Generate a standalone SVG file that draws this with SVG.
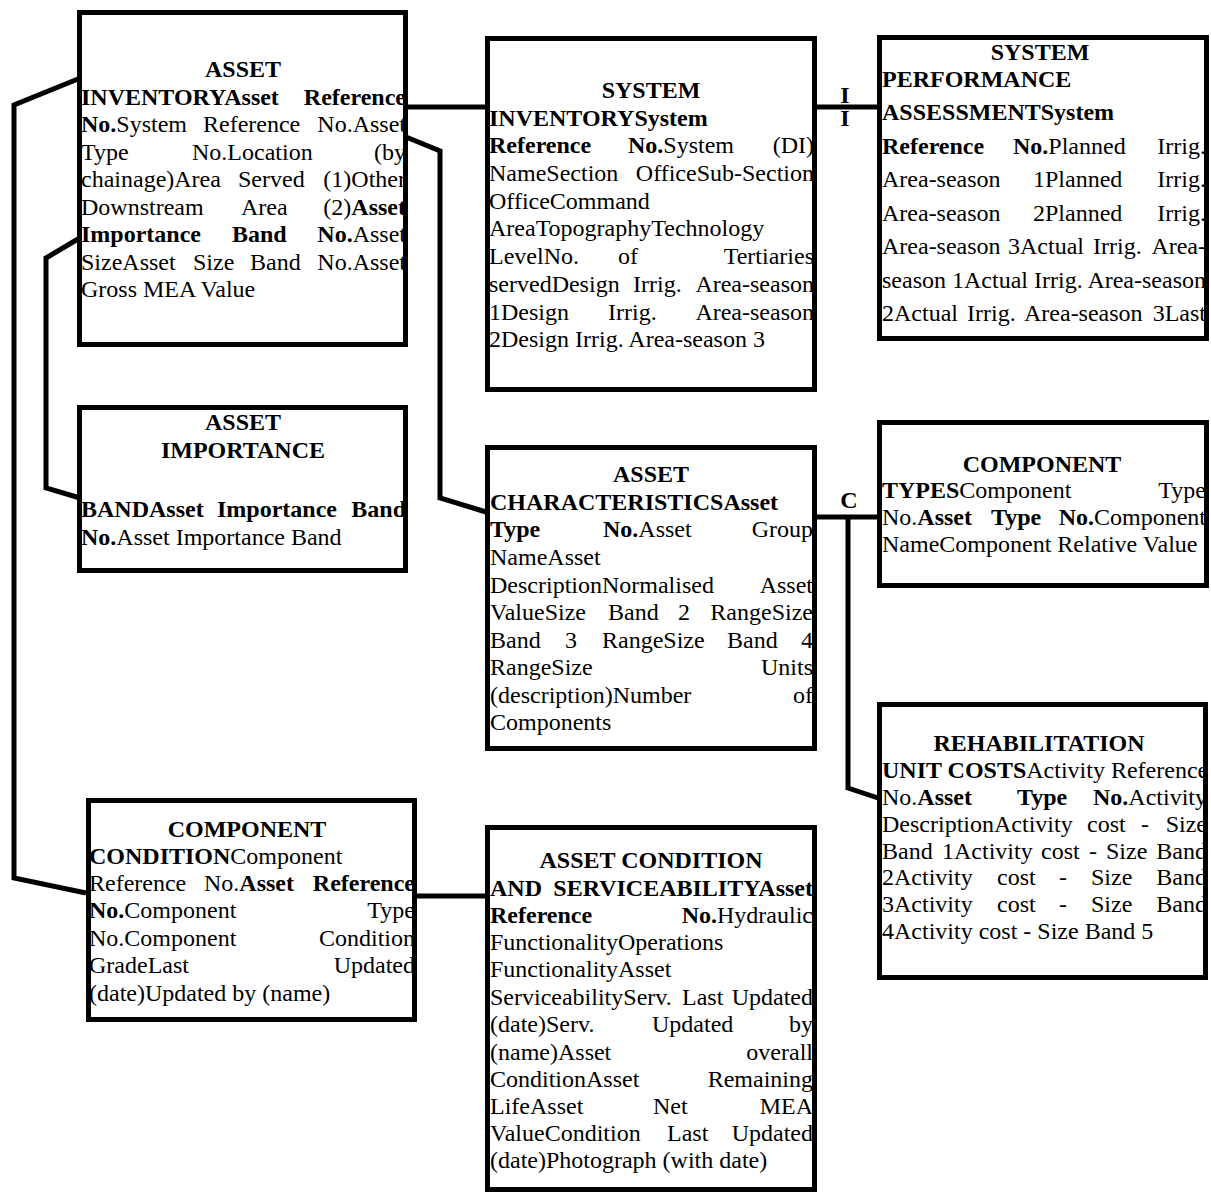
<svg xmlns="http://www.w3.org/2000/svg" width="1211" height="1194" viewBox="0 0 1211 1194">
  <style>
    .box { fill: #fff; stroke: #000; stroke-width: 5; }
    .link { fill: none; stroke: #000; stroke-width: 5; stroke-linejoin: miter; }
    text { font-family: "Liberation Serif", "Times New Roman", serif; font-size: 24px; fill: #000; }
    .b { font-weight: bold; }
    .e { text-anchor: end; }
    .m { text-anchor: middle; }
  </style>
  <rect width="1211" height="1194" fill="#fff"/>

  <!-- relationship lines -->
  <g id="connectors">
    <path class="link" d="M408,107 H485"/>
    <path class="link" d="M817,107 H877"/>
    <path class="link" d="M78,79 L14,105 L14,878 L86,893"/>
    <path class="link" d="M78,239 L46,258 L46,488 L80,498"/>
    <path class="link" d="M406,137 L440,151 L440,498 L486,512"/>
    <path class="link" d="M817,517 H878"/>
    <path class="link" d="M848,517 L848,788 L878,798"/>
    <path class="link" d="M417,896 H485"/>
    <!-- one-to-one mark: stacked bars either side of the line -->
    <text class="b m" x="845" y="103">I<tspan x="845" y="126">I</tspan></text>
    <text class="b m" x="849" y="508">C</text>
  </g>

  <g id="asset-inventory">
    <rect class="box" x="79.5" y="12.5" width="326" height="332"/>
    <text class="b m" x="243" y="77">ASSET</text>
    <text class="b" x="81" y="104.5">INVENTORYAsset</text>
    <text class="b e" x="406" y="104.5">Reference</text>
    <text x="81" y="132"><tspan class="b">No.</tspan>System</text>
    <text x="203" y="132">Reference</text>
    <text class="e" x="406" y="132">No.Asset</text>
    <text x="81" y="159.5">Type</text>
    <text x="192" y="159.5">No.Location</text>
    <text class="e" x="406" y="159.5">(by</text>
    <text x="81" y="187">chainage)Area</text>
    <text x="238" y="187">Served</text>
    <text class="e" x="406" y="187">(1)Other</text>
    <text x="81" y="214.5">Downstream</text>
    <text x="241" y="214.5">Area</text>
    <text class="e" x="406" y="214.5">(2)<tspan class="b">Asset</tspan></text>
    <text class="b" x="81" y="242">Importance</text>
    <text class="b" x="232" y="242">Band</text>
    <text class="e" x="406" y="242"><tspan class="b">No.</tspan>Asset</text>
    <text x="81" y="269.5">SizeAsset</text>
    <text x="193" y="269.5">Size</text>
    <text x="250" y="269.5">Band</text>
    <text class="e" x="406" y="269.5">No.Asset</text>
    <text x="81" y="297">Gross MEA Value</text>
  </g>

  <g id="system-inventory">
    <rect class="box" x="487.5" y="38.5" width="327" height="351"/>
    <text class="b m" x="651" y="98">SYSTEM</text>
    <text class="b" x="489" y="125.7">INVENTORYSystem</text>
    <text class="b" x="489" y="153.4">Reference</text>
    <text x="628" y="153.4"><tspan class="b">No.</tspan>System</text>
    <text class="e" x="814" y="153.4">(DI)</text>
    <text x="489" y="181">NameSection</text>
    <text class="e" x="814" y="181">OfficeSub-Section</text>
    <text x="489" y="208.7">OfficeCommand</text>
    <text x="489" y="236.4">AreaTopographyTechnology</text>
    <text x="489" y="264">LevelNo.</text>
    <text x="618" y="264">of</text>
    <text class="e" x="814" y="264">Tertiaries</text>
    <text x="489" y="291.8">servedDesign</text>
    <text x="633" y="291.8">Irrig.</text>
    <text class="e" x="814" y="291.8">Area-season</text>
    <text x="489" y="319.5">1Design</text>
    <text x="608" y="319.5">Irrig.</text>
    <text class="e" x="814" y="319.5">Area-season</text>
    <text x="489" y="347.2">2Design Irrig. Area-season 3</text>
  </g>

  <g id="system-performance-assessment">
    <rect class="box" x="879.5" y="37.5" width="327" height="301"/>
    <text class="b m" x="1040" y="60">SYSTEM</text>
    <text class="b" x="882" y="87">PERFORMANCE</text>
    <text class="b" x="882" y="120">ASSESSMENTSystem</text>
    <text class="b" x="882" y="153.5">Reference</text>
    <text x="1013" y="153.5"><tspan class="b">No.</tspan>Planned</text>
    <text class="e" x="1206" y="153.5">Irrig.</text>
    <text x="882" y="187">Area-season</text>
    <text x="1033" y="187">1Planned</text>
    <text class="e" x="1206" y="187">Irrig.</text>
    <text x="882" y="220.5">Area-season</text>
    <text x="1033" y="220.5">2Planned</text>
    <text class="e" x="1206" y="220.5">Irrig.</text>
    <text x="882" y="254">Area-season</text>
    <text x="1008" y="254">3Actual</text>
    <text x="1093" y="254">Irrig.</text>
    <text class="e" x="1206" y="254">Area-</text>
    <text x="882" y="287.5">season</text>
    <text x="952" y="287.5">1Actual</text>
    <text x="1034" y="287.5">Irrig.</text>
    <text class="e" x="1206" y="287.5">Area-season</text>
    <text x="882" y="321">2Actual</text>
    <text x="967" y="321">Irrig.</text>
    <text x="1024" y="321">Area-season</text>
    <text class="e" x="1206" y="321">3Last</text>
  </g>

  <g id="asset-importance-band">
    <rect class="box" x="79.5" y="407.5" width="326" height="163"/>
    <text class="b m" x="243" y="430">ASSET</text>
    <text class="b m" x="243" y="458">IMPORTANCE</text>
    <text class="b" x="81" y="517">BANDAsset</text>
    <text class="b" x="217" y="517">Importance</text>
    <text class="b e" x="406" y="517">Band</text>
    <text x="81" y="544.5"><tspan class="b">No.</tspan>Asset Importance Band</text>
  </g>

  <g id="asset-characteristics">
    <rect class="box" x="487.5" y="447.5" width="327" height="301"/>
    <text class="b m" x="651" y="482">ASSET</text>
    <text class="b" x="490" y="510">CHARACTERISTICSAsset</text>
    <text class="b" x="490" y="537">Type</text>
    <text x="603" y="537"><tspan class="b">No.</tspan>Asset</text>
    <text class="e" x="813" y="537">Group</text>
    <text x="490" y="565">NameAsset</text>
    <text x="490" y="592.5">DescriptionNormalised</text>
    <text class="e" x="813" y="592.5">Asset</text>
    <text x="490" y="620">ValueSize</text>
    <text x="608" y="620">Band</text>
    <text x="678" y="620">2</text>
    <text class="e" x="813" y="620">RangeSize</text>
    <text x="490" y="647.5">Band</text>
    <text x="565" y="647.5">3</text>
    <text x="602" y="647.5">RangeSize</text>
    <text x="727" y="647.5">Band</text>
    <text class="e" x="813" y="647.5">4</text>
    <text x="490" y="675">RangeSize</text>
    <text class="e" x="813" y="675">Units</text>
    <text x="490" y="702.5">(description)Number</text>
    <text class="e" x="813" y="702.5">of</text>
    <text x="490" y="730">Components</text>
  </g>

  <g id="component-types">
    <rect class="box" x="879.5" y="422.5" width="327" height="163"/>
    <text class="b m" x="1042" y="472">COMPONENT</text>
    <text x="882" y="498"><tspan class="b">TYPES</tspan>Component</text>
    <text class="e" x="1206" y="498">Type</text>
    <text x="882" y="525">No.<tspan class="b">Asset</tspan></text>
    <text class="b" x="991" y="525">Type</text>
    <text class="e" x="1206" y="525"><tspan class="b">No.</tspan>Component</text>
    <text x="882" y="552">NameComponent Relative Value</text>
  </g>

  <g id="rehabilitation-unit-costs">
    <rect class="box" x="879.5" y="704.5" width="326" height="273"/>
    <text class="b m" x="1039" y="751">REHABILITATION</text>
    <text x="882" y="777.5"><tspan class="b">UNIT COSTS</tspan>Activity Reference</text>
    <text x="882" y="805">No.<tspan class="b">Asset</tspan></text>
    <text class="b" x="1017" y="805">Type</text>
    <text class="e" x="1207" y="805"><tspan class="b">No.</tspan>Activity</text>
    <text x="882" y="832">DescriptionActivity</text>
    <text x="1087" y="832">cost</text>
    <text x="1141" y="832">-</text>
    <text class="e" x="1207" y="832">Size</text>
    <text x="882" y="858.5">Band</text>
    <text x="942" y="858.5">1Activity</text>
    <text x="1041" y="858.5">cost</text>
    <text x="1089" y="858.5">-</text>
    <text x="1106" y="858.5">Size</text>
    <text class="e" x="1207" y="858.5">Band</text>
    <text x="882" y="885">2Activity</text>
    <text x="997" y="885">cost</text>
    <text x="1059" y="885">-</text>
    <text x="1091" y="885">Size</text>
    <text class="e" x="1207" y="885">Band</text>
    <text x="882" y="912">3Activity</text>
    <text x="997" y="912">cost</text>
    <text x="1059" y="912">-</text>
    <text x="1091" y="912">Size</text>
    <text class="e" x="1207" y="912">Band</text>
    <text x="882" y="938.5">4Activity cost - Size Band 5</text>
  </g>

  <g id="component-condition">
    <rect class="box" x="88.5" y="800.5" width="326" height="219"/>
    <text class="b m" x="247" y="837">COMPONENT</text>
    <text x="89" y="863.5"><tspan class="b">CONDITION</tspan>Component</text>
    <text x="89" y="891">Reference</text>
    <text x="204" y="891">No.<tspan class="b">Asset</tspan></text>
    <text class="b e" x="415" y="891">Reference</text>
    <text x="89" y="918"><tspan class="b">No.</tspan>Component</text>
    <text class="e" x="415" y="918">Type</text>
    <text x="89" y="945.5">No.Component</text>
    <text class="e" x="415" y="945.5">Condition</text>
    <text x="89" y="973">GradeLast</text>
    <text class="e" x="415" y="973">Updated</text>
    <text x="89" y="1000.5">(date)Updated by (name)</text>
  </g>

  <g id="asset-condition-serviceability">
    <rect class="box" x="487.5" y="827.5" width="327" height="362"/>
    <text class="b m" x="651" y="868">ASSET CONDITION</text>
    <text class="b" x="490" y="896">AND</text>
    <text class="b e" x="813" y="896">SERVICEABILITYAsset</text>
    <text class="b" x="490" y="923">Reference</text>
    <text class="e" x="813" y="923"><tspan class="b">No.</tspan>Hydraulic</text>
    <text x="490" y="950">FunctionalityOperations</text>
    <text x="490" y="977">FunctionalityAsset</text>
    <text x="490" y="1005">ServiceabilityServ.</text>
    <text x="682" y="1005">Last</text>
    <text class="e" x="813" y="1005">Updated</text>
    <text x="490" y="1032">(date)Serv.</text>
    <text x="652" y="1032">Updated</text>
    <text class="e" x="813" y="1032">by</text>
    <text x="490" y="1059.5">(name)Asset</text>
    <text class="e" x="813" y="1059.5">overall</text>
    <text x="490" y="1087">ConditionAsset</text>
    <text class="e" x="813" y="1087">Remaining</text>
    <text x="490" y="1113.5">LifeAsset</text>
    <text x="653" y="1113.5">Net</text>
    <text class="e" x="813" y="1113.5">MEA</text>
    <text x="490" y="1141">ValueCondition</text>
    <text x="667" y="1141">Last</text>
    <text class="e" x="813" y="1141">Updated</text>
    <text x="490" y="1168">(date)Photograph (with date)</text>
  </g>
</svg>
